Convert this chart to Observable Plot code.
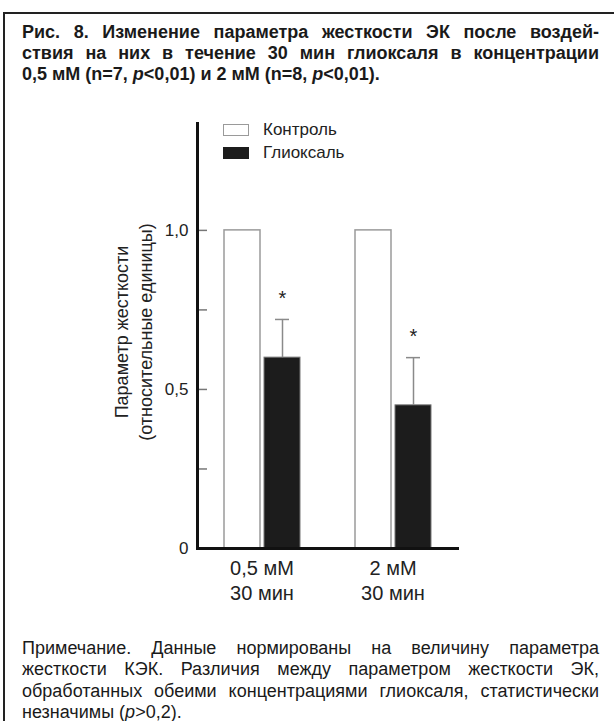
<!DOCTYPE html>
<html>
<head>
<meta charset="utf-8">
<script src="https://cdn.jsdelivr.net/npm/d3@7"></script>
<script src="https://cdn.jsdelivr.net/npm/@observablehq/plot@0.6"></script>
<style>
  body { margin: 0; background: #fff; }
  #page { position: relative; width: 614px; height: 721px; overflow: hidden;
          font-family: "Liberation Sans", Arial, sans-serif; color: #1a1a1a; }
  #box { position: absolute; left: 3px; top: 12px; right: -10px; bottom: -10px;
         border-top: 2px solid #222; border-left: 2px solid #222; }
  .para { position: absolute; left: 22px; width: 577px; }
  .para div { text-align: justify; text-align-last: justify; }
  .para div.last { text-align-last: left; }
  #title { top: 22px; font-weight: bold; font-size: 18px; line-height: 21px; }
  #note { top: 638px; font-size: 18px; line-height: 21.3px; }
  #chart { position: absolute; left: 0; top: 100px; }
  #legend { position: absolute; left: 223px; top: 118px; font-size: 17px; color: #222; }
  #legend .row { display: flex; align-items: center; height: 23px; }
  #legend .sw { width: 26px; height: 12px; box-sizing: border-box; margin-right: 14px; }
</style>
</head>
<body>
<div id="page">
  <div id="box"></div>
  <div id="title" class="para">
    <div>Рис. 8. Изменение параметра жесткости ЭК после воздей-</div>
    <div>ствия на них в течение 30 мин глиоксаля в концентрации</div>
    <div class="last">0,5 мМ (n=7, <i>p</i>&lt;0,01) и 2 мМ (n=8, <i>p</i>&lt;0,01).</div>
  </div>
  <div id="chart"></div>
  <div id="legend"></div>
  <div id="note" class="para">
    <div>Примечание. Данные нормированы на величину параметра</div>
    <div>жесткости КЭК. Различия между параметром жесткости ЭК,</div>
    <div>обработанных обеими концентрациями глиоксаля, статистически</div>
    <div class="last">незначимы (<i>p</i>&gt;0,2).</div>
  </div>
</div>
<script>
// Glyoxal concentrations (30 min exposure)
const groups = ["0,5 мМ", "2 мМ"];
const duration = "30 мин";
const seriesNames = ["Контроль", "Глиоксаль"];
// Stiffness, normalised to control
const controlValues = [1.0, 1.0];
const glyoxalValues = [0.60, 0.45];
const glyoxalErrors = [0.12, 0.15];
// Y axis
const yLabelTicks = [0, 0.5, 1.0];
const yLabelText = ["0", "0,5", "1,0"];
const yAllTicks = [0, 0.25, 0.5, 0.75, 1.0];
const yTitle = "Параметр жесткости\n(относительные единицы)";

const rows = groups.flatMap((g, i) => [
  {group: g, series: seriesNames[0], value: controlValues[i]},
  {group: g, series: seriesNames[1], value: glyoxalValues[i], err: glyoxalErrors[i]}
]);
const control = rows.filter(d => d.series === seriesNames[0]);
const glyoxal = rows.filter(d => d.series === seriesNames[1]);

const ink = "#1c1c1c";
const edge = "#9a9a9a";

const chart = Plot.plot({
  width: 614,
  height: 520,
  marginTop: 23,
  marginBottom: 72,
  marginLeft: 197,
  marginRight: 127,
  style: {fontFamily: "'Liberation Sans', Arial, sans-serif", color: "#222", background: "transparent"},
  fx: {domain: groups, paddingInner: 0.0153, paddingOuter: 0.1145, align: 0, label: null},
  x: {domain: seriesNames, paddingInner: 0.1, paddingOuter: 0.643, axis: null},
  y: {domain: [0, 1.336], label: null},
  marks: [
    Plot.barY(control, {fx: "group", x: "series", y: "value", fill: "white", stroke: edge, strokeWidth: 1.5}),
    Plot.barY(glyoxal, {fx: "group", x: "series", y: "value", fill: ink, stroke: "#777", strokeWidth: 1}),
    Plot.ruleX(glyoxal, {fx: "group", x: "series", y1: "value", y2: d => d.value + d.err, stroke: "#8a8a8a", strokeWidth: 1.5}),
    Plot.tickY(glyoxal, {fx: "group", x: "series", y: d => d.value + d.err, stroke: "#8a8a8a", strokeWidth: 1.5, insetLeft: 11, insetRight: 11}),
    Plot.text(glyoxal, {fx: "group", x: "series", y: d => d.value + d.err, text: () => "*", dy: -21, fontSize: 20, fill: "#222"}),
    Plot.axisY(yAllTicks, {anchor: "left", tickSize: -10, stroke: "#777", strokeWidth: 1.5, text: null, label: null}),
    Plot.axisY(yLabelTicks, {anchor: "left", tickSize: 0, tickPadding: 9, fontSize: 17, tickFormat: (d, i) => yLabelText[i], label: null}),
    Plot.axisFx({anchor: "bottom", tickSize: 0, tickPadding: 9, fontSize: 20, lineHeight: 1.25, tickFormat: g => g + "\n" + duration, label: null}),
    Plot.frame({anchor: "left", facet: "super", stroke: "#111", strokeWidth: 3}),
    Plot.frame({anchor: "bottom", facet: "super", stroke: "#111", strokeWidth: 3}),
    Plot.text([yTitle], {facet: "super", frameAnchor: "left", textAnchor: "middle", rotate: -90, dx: -65, dy: -4, fontSize: 18, lineHeight: 1.33, fill: "#222", text: d => d})
  ]
});
document.getElementById("chart").append(chart);

// Legend
const legend = document.getElementById("legend");
[[seriesNames[0], "white", edge], [seriesNames[1], ink, ink]].forEach(([name, fill, stroke]) => {
  const row = document.createElement("div");
  row.className = "row";
  const sw = document.createElement("span");
  sw.className = "sw";
  sw.style.background = fill;
  sw.style.border = `1.5px solid ${stroke}`;
  const label = document.createElement("span");
  label.textContent = name;
  row.append(sw, label);
  legend.append(row);
});
</script>
</body>
</html>
